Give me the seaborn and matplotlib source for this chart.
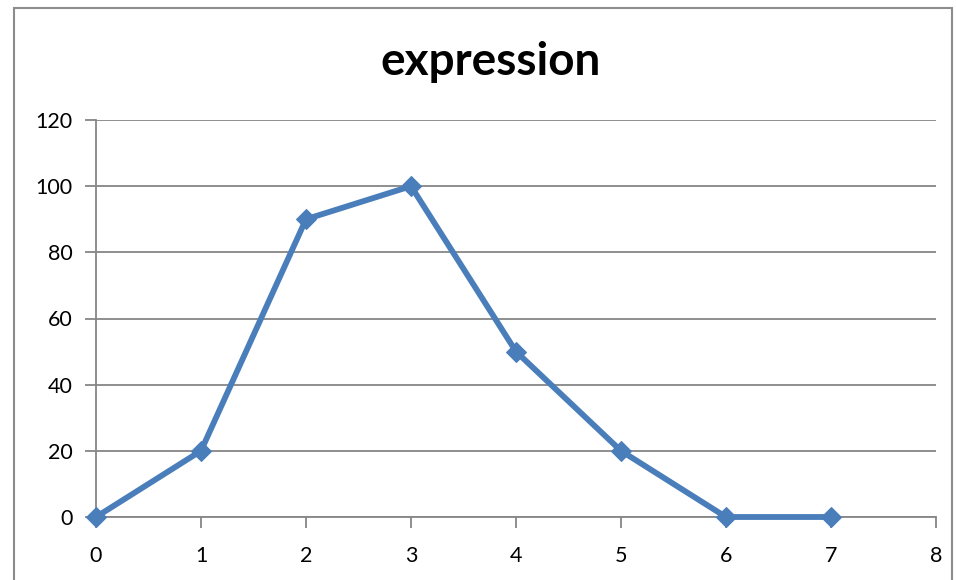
import matplotlib
matplotlib.use("Agg")
import matplotlib.pyplot as plt
import seaborn as sns
import pandas as pd
from matplotlib.patches import Rectangle

x_values = [0, 1, 2, 3, 4, 5, 6, 7]
expression = [0, 20, 90, 100, 50, 20, 0, 0]
y_ticks = [0, 20, 40, 60, 80, 100, 120]
x_ticks = [0, 1, 2, 3, 4, 5, 6, 7, 8]
title = "expression"

df = pd.DataFrame({"x": x_values, "expression": expression})

sns.set_theme(style="white")
plt.rcParams['font.family'] = ['Lato', 'DejaVu Sans']

fig = plt.figure(figsize=(9.56, 5.8), dpi=100)
ax = fig.add_axes([96/956, 1-517/580, (936-96)/956, (517-120)/580])

grid_c = "#868686"
sns.lineplot(data=df, x="x", y="expression", ax=ax, color="#4A7EBB",
             linewidth=4.2, marker="D", markersize=10, markeredgecolor="#4A7EBB",
             clip_on=False, zorder=5)

ax.set_xlim(0, 8)
ax.set_ylim(0, 120)
ax.set_xticks(x_ticks)
ax.set_yticks(y_ticks)
ax.set_xlabel("")
ax.set_ylabel("")
ax.yaxis.grid(True, color=grid_c, linewidth=1.3)
ax.set_axisbelow(True)
for s in ["top", "right"]:
    ax.spines[s].set_visible(False)
for s in ["left", "bottom"]:
    ax.spines[s].set_color(grid_c)
    ax.spines[s].set_linewidth(1.3)
ax.tick_params(axis="both", which="both", direction="out", length=8, width=1.3,
               color=grid_c, labelsize=15.5, labelcolor="#000000")
ax.tick_params(axis="y", pad=9, left=True)
ax.tick_params(axis="x", pad=13, bottom=True)

fig.text(491/956, 1-62/580, title, ha="center", va="center",
         fontsize=33, fontweight="bold", color="#000000")

fig.patches.append(Rectangle((14/956, -0.02), (952-14)/956, 1-8/580+0.02,
                             transform=fig.transFigure, fill=False,
                             edgecolor="#8c8c8c", linewidth=1.5))

fig.savefig("out.png", dpi=100)
